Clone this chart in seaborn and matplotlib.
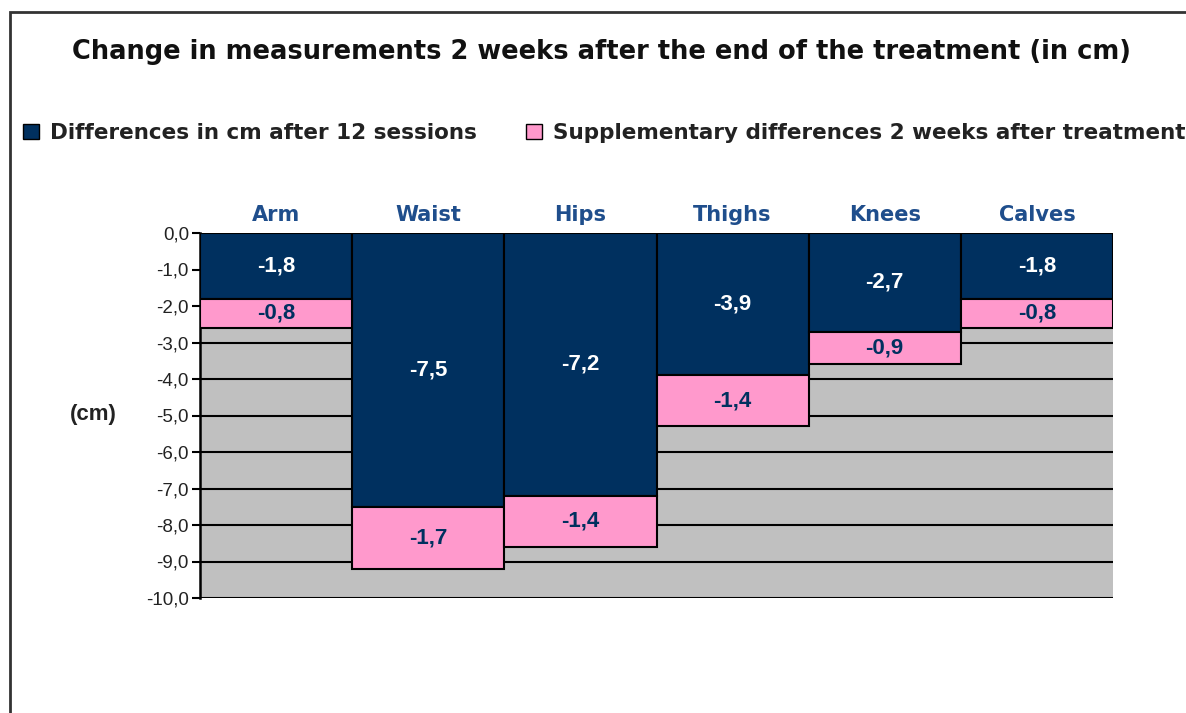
import matplotlib
matplotlib.use("Agg")
import matplotlib.pyplot as plt
from matplotlib.patches import Patch, Rectangle
import seaborn as sns
import pandas as pd

# data (cm)
parts = ["Arm", "Waist", "Hips", "Thighs", "Knees", "Calves"]
after_sessions = [-1.8, -7.5, -7.2, -3.9, -2.7, -1.8]
after_two_weeks = [-0.8, -1.7, -1.4, -1.4, -0.9, -0.8]
y_ticks = [0, -1, -2, -3, -4, -5, -6, -7, -8, -9, -10]

series_names = ["Differences in cm after 12 sessions",
                "Supplementary differences 2 weeks after treatment"]

navy = "#00305f"
pink = "#ff99cc"
grey = "#c0c0c0"
label_blue = "#1f4e8c"

df = pd.DataFrame({"part": parts, "first": after_sessions, "second": after_two_weeks})

sns.set_theme(style="white")
plt.rcParams["font.family"] = ["DejaVu Sans"]

fig = plt.figure(figsize=(11.86, 7.13), dpi=100)
ax = fig.add_axes([200 / 1186, 1 - 598 / 713, 913 / 1186, 365 / 713])

sns.barplot(data=df, x="part", y="first", color=navy, width=1.0,
            edgecolor="black", linewidth=1.5, saturation=1, ax=ax, zorder=3)
sns.barplot(data=df, x="part", y="second", bottom=after_sessions, color=pink,
            width=1.0, edgecolor="black", linewidth=1.5, saturation=1, ax=ax, zorder=3)

fmt = lambda v: f"{v:.1f}".replace(".", ",")
ax.bar_label(ax.containers[0], labels=[fmt(v) for v in after_sessions],
             label_type="center", color="white", fontsize=16, fontweight="bold",
             family="Liberation Sans", zorder=5)
ax.bar_label(ax.containers[1], labels=[fmt(v) for v in after_two_weeks],
             label_type="center", color=navy, fontsize=16, fontweight="bold",
             family="Liberation Sans", zorder=5)

ax.set_facecolor(grey)
ax.set_ylim(-10, 0)
ax.set_xlim(-0.5, 5.5)
ax.set_yticks(y_ticks)
ax.set_yticklabels([fmt(v) for v in y_ticks], family="Liberation Sans",
                   fontsize=13.5, color="#222222")
ax.yaxis.grid(True, color="black", linewidth=1.5, zorder=0)
ax.set_axisbelow(True)
ax.tick_params(axis="y", direction="out", length=6, width=1.5, color="black", pad=2, left=True)

ax.xaxis.tick_top()
ax.tick_params(axis="x", length=0, pad=6)
for lab in ax.get_xticklabels():
    lab.set_color(label_blue)
    lab.set_fontweight("bold")
    lab.set_fontsize(15)
ax.set_xlabel("")
ax.set_ylabel("")

for side in ["top", "right", "bottom"]:
    ax.spines[side].set_visible(False)
ax.spines["left"].set_color("black")
ax.spines["left"].set_linewidth(1.8)

fig.text(93 / 1186, 1 - 415 / 713, "(cm)", ha="center", va="center",
         fontsize=16, fontweight="bold", family="Liberation Sans", color="#222222")

fig.text(601 / 1186, 1 - 52 / 713,
         "Change in measurements 2 weeks after the end of the treatment (in cm)",
         ha="center", va="center", fontsize=18.5, fontweight="semibold", color="#111111")

handles = [Patch(facecolor=navy, edgecolor="black", label=series_names[0]),
           Patch(facecolor=pink, edgecolor="black", label=series_names[1])]
fig.legend(handles=handles, loc="center left", bbox_to_anchor=(14 / 1186, 1 - 133 / 713),
           ncol=2, frameon=False, handlelength=0.75, handleheight=0.75,
           handletextpad=0.5, columnspacing=2.3, borderaxespad=0,
           prop={"size": 15.5, "weight": "semibold"}, labelcolor="#222222")

# partial frame of the original picture (left and top edges)
fig.patches.append(Rectangle((10 / 1186, -0.1), 1.2, 1.1 - 12 / 713,
                             transform=fig.transFigure, fill=False,
                             edgecolor="#333333", linewidth=2))

fig.savefig("out.png", dpi=100)
